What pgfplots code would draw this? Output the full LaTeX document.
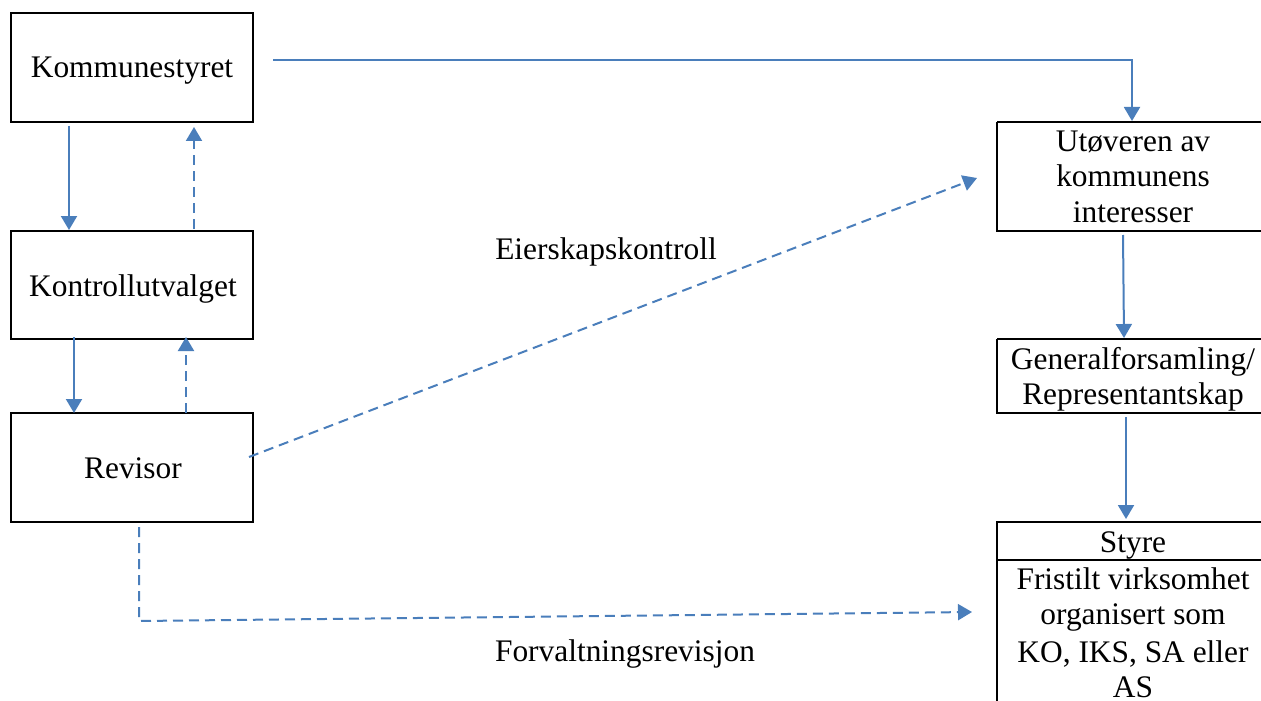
\documentclass[border=0pt]{standalone}
\usepackage{fontspec}
\setmainfont{Liberation Serif}
\usepackage{pgfplots}
\pgfplotsset{compat=1.18}
\usetikzlibrary{arrows.meta}
\definecolor{arrowblue}{RGB}{74,126,187}
\tikzset{
  box/.style={black, line width=1.2pt, line join=miter},
  link/.style={arrowblue, line width=1pt, -{Triangle[width=8pt,length=7pt]}},
  dlink/.style={link, dash pattern=on 5pt off 3pt},
  lbl/.style={font=\fontsize{15.7}{17.5}\selectfont, inner sep=0pt, anchor=base},
}
\begin{document}
\begin{tikzpicture}
\begin{axis}[
  width=630.5pt, height=350pt, scale only axis,
  xmin=0, xmax=1261, ymin=0, ymax=700, y dir=reverse,
  hide axis,
]
% boxes (pixel coordinates, y downwards)
\addplot[box] coordinates {(11,13) (253,13) (253,122) (11,122) (11,13) (253,13)};
\addplot[box] coordinates {(11,231) (253,231) (253,339) (11,339) (11,231) (253,231)};
\addplot[box] coordinates {(11,413) (253,413) (253,522) (11,522) (11,413) (253,413)};
\addplot[box] coordinates {(997,122) (1275,122) (1275,231) (997,231) (997,122)};
\addplot[box] coordinates {(997,339) (1275,339) (1275,413) (997,413) (997,339)};
\addplot[box] coordinates {(997,730) (997,522) (1275,522)};
\addplot[box] coordinates {(997,560) (1275,560)};

% arrows
\addplot[link]  coordinates {(69,126) (69,230)};
\addplot[dlink] coordinates {(194,229) (194,127)};
\addplot[link]  coordinates {(74,337) (74,413)};
\addplot[dlink] coordinates {(186,413) (186,337)};
\addplot[link]  coordinates {(273,60) (1132,60) (1132,121)};
\addplot[dlink] coordinates {(249,457) (977,178)};
\addplot[link]  coordinates {(1123,235) (1124,338)};
\addplot[link]  coordinates {(1126,417) (1126,519)};
\addplot[dlink] coordinates {(139,527) (139,621) (972,612)};

% labels
\node[lbl] at (axis cs:132,78) {Kommunestyret};
\node[lbl] at (axis cs:133,296) {Kontrollutvalget};
\node[lbl] at (axis cs:133,478) {Revisor};
\node[lbl] at (axis cs:1133,152) {Utøveren av};
\node[lbl] at (axis cs:1133,187) {kommunens};
\node[lbl] at (axis cs:1133,222) {interesser};
\node[lbl] at (axis cs:1133,369) {Generalforsamling/};
\node[lbl] at (axis cs:1133,404) {Representantskap};
\node[lbl] at (axis cs:1133,552) {Styre};
\node[lbl] at (axis cs:1133,589) {Fristilt virksomhet};
\node[lbl] at (axis cs:1133,624) {organisert som};
\node[lbl] at (axis cs:1133,662) {KO, IKS, SA eller};
\node[lbl] at (axis cs:1133,697) {AS};
\node[lbl] at (axis cs:606,259) {Eierskapskontroll};
\node[lbl] at (axis cs:625,661) {Forvaltningsrevisjon};
\end{axis}
\pgfresetboundingbox
\path[use as bounding box] (current axis.south west) rectangle (current axis.north east);
\end{tikzpicture}
\end{document}
